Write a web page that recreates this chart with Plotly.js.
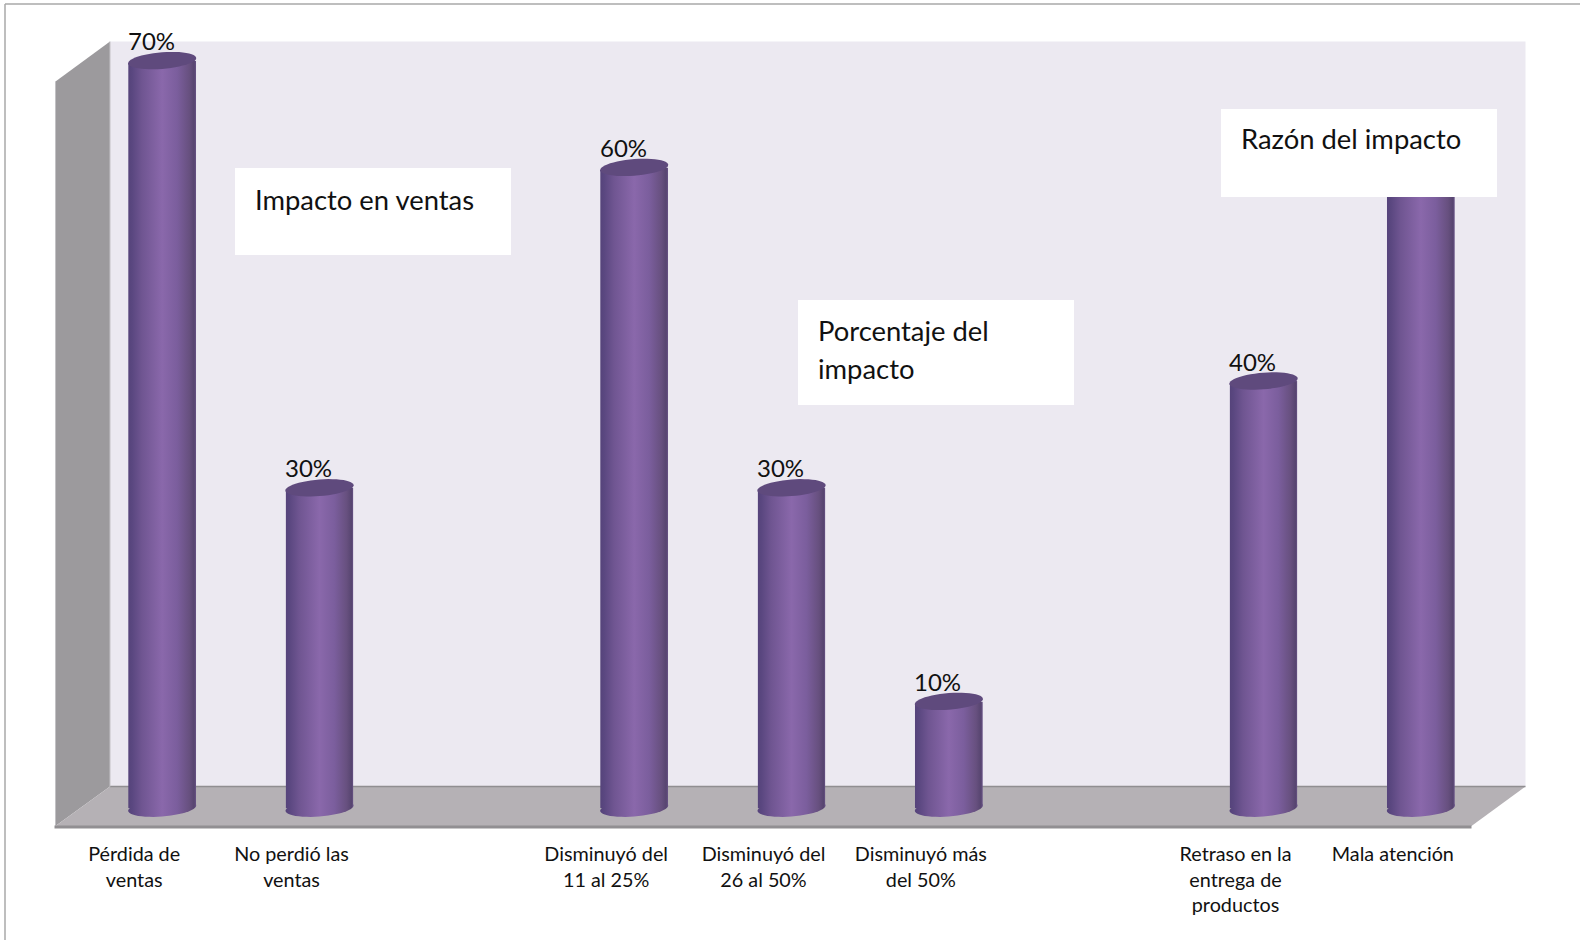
<!DOCTYPE html>
<html>
<head>
<meta charset="utf-8">
<script src="https://cdn.plot.ly/plotly-3.0.1.min.js"></script>
<style>html,body{margin:0;padding:0;background:#fff}#chart{width:1580px;height:940px}</style>
</head>
<body>
<div id="chart"></div>
<script>
// Survey results, three groups separated by an empty slot.
const categories = [
  "Pérdida de<br>ventas", "No perdió las<br>ventas",
  "Disminuyó del<br>11 al 25%", "Disminuyó del<br>26 al 50%", "Disminuyó más<br>del 50%",
  "Retraso en la<br>entrega de<br>productos", "Mala atención"
];
const slots = [0, 1, 3, 4, 5, 7, 8];
const values = [70, 30, 60, 30, 10, 40, 60];
// The last value sits behind the "Razón del impacto" box, so it has no visible label.
const valueLabels = ["70%", "30%", "60%", "30%", "10%", "40%", ""];
const boxes = [
  {x0: 235, x1: 511, y0: 168, y1: 255, tx: 255, lines: [["Impacto en ventas", 199]]},
  {x0: 798, x1: 1074, y0: 300, y1: 405, tx: 818, lines: [["Porcentaje del", 331], ["impacto", 369]]},
  {x0: 1221, x1: 1497, y0: 109, y1: 197, tx: 1241, lines: [["Razón del impacto", 139]]}
];

const W = 1580, H = 940;
// Frame of the pseudo-3D box, in page pixels.
const front = {l: 55.5, r: 1471.5, y: 826};
const back = {l: 110, r: 1525.5, t: 41.5, y: 786.5};
const wallFrontTop = 81.5;
const zeroY = 808.2, pxPerUnit = 10.68;
const slotPx = (front.r - front.l) / 9;
const barPx = 68, barShift = 28 / slotPx;
const capRadius = 8.3, capTilt = 2.6;

const px = v => v / W, py = v => 1 - v / H;
const yRange = [-(front.y - zeroY) / pxPerUnit, (zeroY - back.t) / pxPerUnit];
const poly = pts => "M" + pts.map(p => px(p[0]) + "," + py(p[1])).join("L") + "Z";
const paperShape = (pts, fill) => ({type: "path", xref: "paper", yref: "paper", layer: "below", path: poly(pts), fillcolor: fill, line: {width: 0}});
const paperLine = (x0, y0, x1, y1, color, width) => ({type: "line", xref: "paper", yref: "paper", layer: "below",
  x0: px(x0), y0: py(y0), x1: px(x1), y1: py(y1), line: {color, width}});

// Tilted ellipse in data coordinates around a bar end; half = true keeps only its lower half.
function ellipsePath(slot, value, half) {
  const a = barPx / 2, cx = slot + 0.5 + barShift, n = 48, span = half ? Math.PI : 2 * Math.PI;
  const pts = [];
  for (let i = 0; i <= n; i++) {
    const t = span * i / n;
    const dx = a * Math.cos(t), dy = capRadius * Math.sin(t) - capTilt * Math.cos(t);
    pts.push((cx + dx / slotPx) + "," + (value - dy / pxPerUnit));
  }
  return "M" + pts.join("L") + "Z";
}

const shapes = [
  // outer frame
  paperLine(5, H, 5, 4, "#a9a9a9", 1.5),
  paperLine(5, 4, W, 4, "#a9a9a9", 1.5),
  // back wall
  paperShape([[back.l, back.t], [back.r, back.t], [back.r, back.y], [back.l, back.y]], "#ece9f1"),
  // side wall
  paperShape([[front.l, wallFrontTop], [back.l, back.t], [back.l, back.y], [front.l, front.y]], "#9c9a9d"),
  paperLine(front.l, wallFrontTop, front.l, front.y, "#c2c1c4", 1),
  // floor and its front edge
  paperShape([[front.l, front.y], [back.l, back.y], [back.r, back.y], [front.r, front.y]], "#b5b1b5"),
  paperShape([[front.l - 1, front.y - 0.5], [front.r, front.y - 0.5], [front.r, front.y + 2.5], [front.l - 1, front.y + 2.5]], "#918f92"),
  paperLine(back.l, back.y, back.r, back.y, "#908e91", 1.5),
  paperLine(back.l, back.t, back.l, back.y, "#c4c2c6", 1)
];

const shadedShapes = [];
const addShaded = shape => { shadedShapes.push(shapes.length); shapes.push(shape); };

// Rounded lower end of each cylinder, behind the bar body.
slots.forEach(s => addShaded({
  type: "path", xref: "x", yref: "y", layer: "below",
  path: ellipsePath(s, 0, false), fillcolor: "#7d60a0", line: {width: 0}
}));
// Fills the sliver between the flat bar end and the tilted top face.
slots.forEach((s, i) => addShaded({
  type: "path", xref: "x", yref: "y", layer: "above",
  path: ellipsePath(s, values[i], true), fillcolor: "#7d60a0", line: {width: 0}
}));
// Top face of each cylinder.
slots.forEach((s, i) => shapes.push({
  type: "path", xref: "x", yref: "y", layer: "above",
  path: ellipsePath(s, values[i], false), fillcolor: "#5f4a7d", line: {width: 0}
}));
// White text boxes lie on top of everything else.
boxes.forEach(b => shapes.push({
  type: "rect", xref: "paper", yref: "paper", layer: "above",
  x0: px(b.x0), x1: px(b.x1), y0: py(b.y1), y1: py(b.y0), fillcolor: "#ffffff", line: {width: 0}
}));

const annotations = [];
slots.forEach((s, i) => {
  if (!valueLabels[i]) return;
  annotations.push({
    x: s + 0.5 + barShift, y: values[i], xref: "x", yref: "y", showarrow: false,
    xshift: -11, yshift: 20, xanchor: "center", yanchor: "middle",
    text: valueLabels[i], font: {family: "Lato", size: 24, color: "#111111"}
  });
});
boxes.forEach(b => b.lines.forEach(([text, ty]) => annotations.push({
  x: px(b.tx - 2), y: py(ty), xref: "paper", yref: "paper", showarrow: false,
  xanchor: "left", yanchor: "middle", align: "left",
  text, font: {family: "Lato", size: 27.4, color: "#111111"}
})));

const bars = {
  type: "bar",
  x: slots.map(s => s + 0.5),
  y: values,
  width: barPx / slotPx,
  offset: barShift - barPx / slotPx / 2,
  marker: {color: "#7d60a0", line: {width: 0}},
  hoverinfo: "skip"
};

const layout = {
  width: W, height: H,
  margin: {l: 0, r: 0, t: 0, b: 0},
  paper_bgcolor: "#ffffff", plot_bgcolor: "rgba(0,0,0,0)",
  showlegend: false,
  xaxis: {
    domain: [px(front.l), px(front.r)], range: [0, 9], fixedrange: true,
    tickmode: "array", tickvals: slots.map(s => s + 0.5), ticktext: categories,
    ticks: "", showgrid: false, zeroline: false, showline: false,
    ticklabelstandoff: 14,
    tickangle: 0, automargin: false,
    tickfont: {family: "Lato", size: 19.8, color: "#111111"}
  },
  yaxis: {
    domain: [py(front.y), py(back.t)], range: yRange, fixedrange: true,
    visible: false, showgrid: false, zeroline: false
  },
  shapes, annotations
};

// The library's bars take a flat colour, so the cylinder shading goes on as an SVG gradient.
function addShading() {
  const gd = document.getElementById("chart");
  const svg = gd.querySelector("svg.main-svg");
  const NS = "http://www.w3.org/2000/svg";
  const defs = document.createElementNS(NS, "defs");
  const grad = document.createElementNS(NS, "linearGradient");
  grad.setAttribute("id", "cylinderShade");
  grad.setAttribute("x1", "0"); grad.setAttribute("x2", "1");
  grad.setAttribute("y1", "0"); grad.setAttribute("y2", "0");
  [[0, "#55437a"], [0.06, "#5a4780"], [0.2, "#6f5591"], [0.5, "#8a68ab"], [0.72, "#7b5e9d"], [0.9, "#67507f"], [0.97, "#574570"], [1, "#6a5488"]]
    .forEach(([o, c]) => {
      const st = document.createElementNS(NS, "stop");
      st.setAttribute("offset", o); st.setAttribute("stop-color", c);
      grad.appendChild(st);
    });
  defs.appendChild(grad);
  svg.insertBefore(defs, svg.firstChild);

  const t = capTilt + "px";
  gd.querySelectorAll(".barlayer .point path").forEach(p => {
    p.style.setProperty("fill", "url(#cylinderShade)");
    // Slant the flat bar ends so they stay inside the tilted end faces.
    p.style.setProperty("clip-path", `polygon(0 ${t}, 100% 0, 100% calc(100% - ${t}), 0 100%)`);
  });
  shadedShapes.forEach(i => {
    const p = gd.querySelector(`.shapelayer path[data-index="${i}"]`);
    if (p) p.style.setProperty("fill", "url(#cylinderShade)");
  });
}

Plotly.newPlot("chart", [bars], layout, {staticPlot: true, displayModeBar: false}).then(addShading);
</script>
</body>
</html>
